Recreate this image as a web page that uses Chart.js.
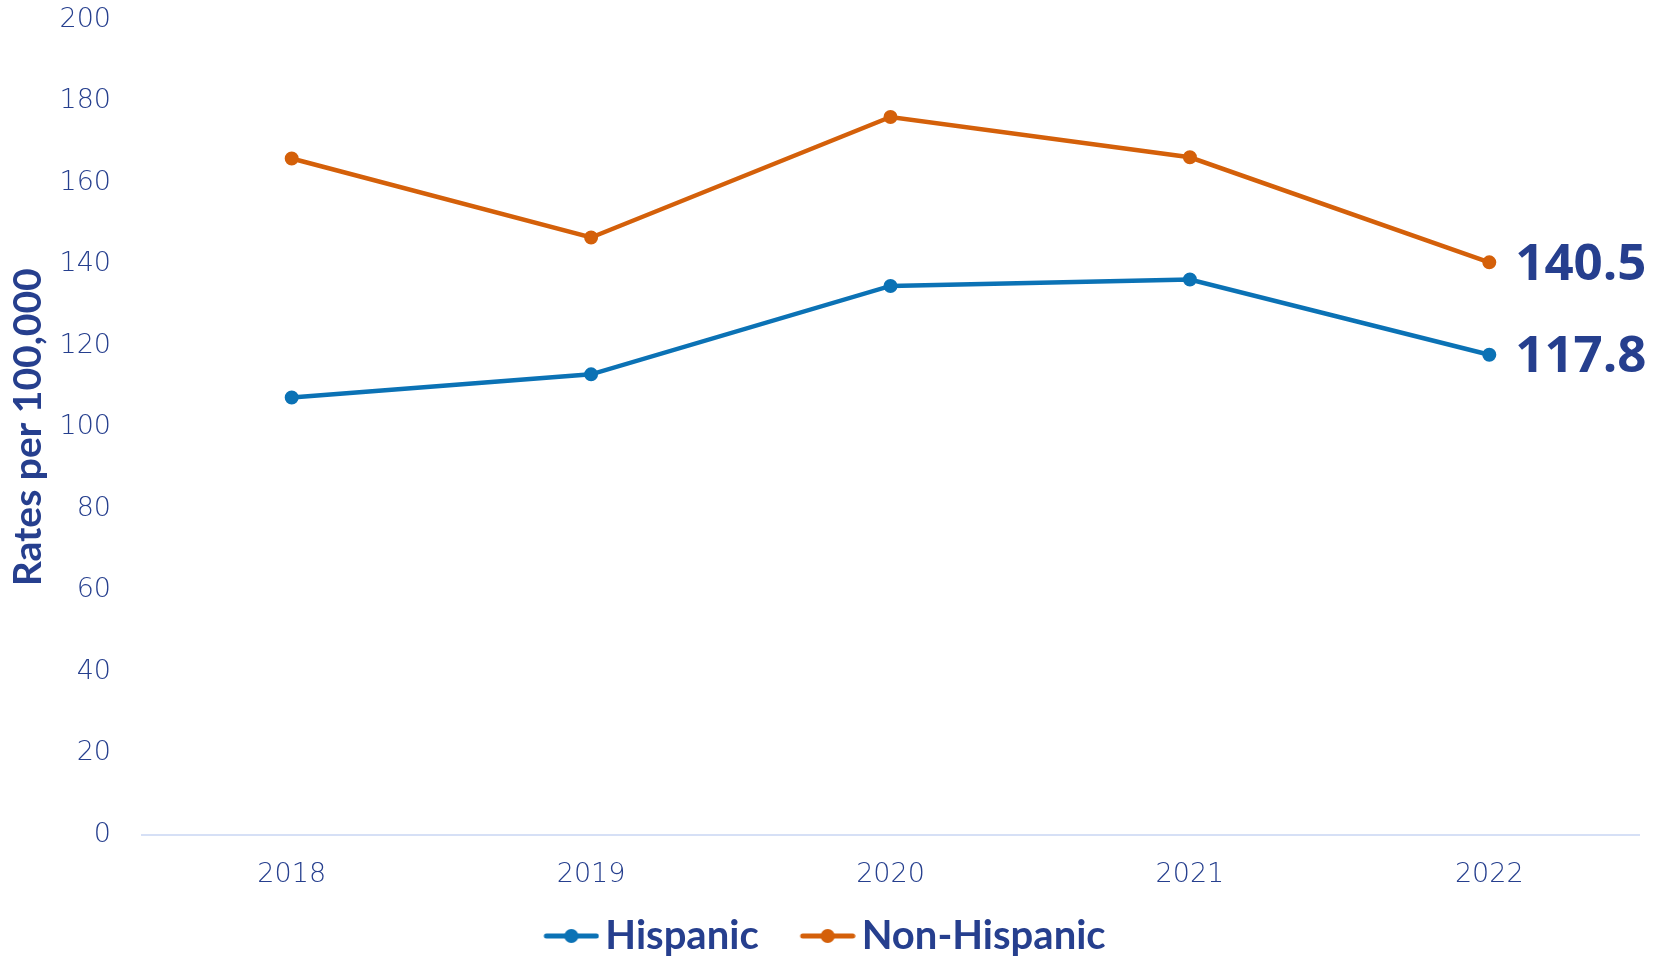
<!DOCTYPE html>
<html>
<head>
<meta charset="utf-8">
<script src="https://cdn.jsdelivr.net/npm/chart.js@4.4.1/dist/chart.umd.min.js"></script>
<style>
  html, body { margin: 0; padding: 0; background: #fff; }
  #wrap { width: 1657px; height: 958px; position: relative; }
</style>
</head>
<body>
<div id="wrap"><canvas id="rateChart"></canvas></div>
<script>
const years = ['2018', '2019', '2020', '2021', '2022'];
const hispanic = [107.3, 113.0, 134.7, 136.3, 117.8];
const nonHispanic = [166.0, 146.6, 176.2, 166.3, 140.5];
const seriesNames = ['Hispanic', 'Non-Hispanic'];
const yTicks = [0, 20, 40, 60, 80, 100, 120, 140, 160, 180, 200];

const navy = '#263F8E';
const blue = '#0B72B5';
const orange = '#D4600A';
const tickFont = { family: '"DejaVu Sans"', size: 27, weight: 200 };

// legend icon: line with a dot, drawn at the right of a wider transparent canvas
function legendIcon(color) {
    const c = document.createElement('canvas');
    c.width = 101;
    c.height = 16;
    const g = c.getContext('2d');
    g.strokeStyle = color;
    g.lineWidth = 5;
    g.lineCap = 'round';
    g.beginPath();
    g.moveTo(48, 8);
    g.lineTo(98, 8);
    g.stroke();
    g.fillStyle = color;
    g.beginPath();
    g.arc(73, 8, 7, 0, Math.PI * 2);
    g.fill();
    return c;
}

// last value labels next to the final point of each line
const endLabels = {
    id: 'endLabels',
    afterDatasetsDraw(chart) {
        const ctx = chart.ctx;
        ctx.save();
        ctx.font = 'bold 51px "Open Sans"';
        ctx.fillStyle = navy;
        ctx.textAlign = 'left';
        ctx.textBaseline = 'middle';
        chart.data.datasets.forEach((ds, i) => {
            const meta = chart.getDatasetMeta(i);
            const last = meta.data[meta.data.length - 1];
            const val = ds.data[ds.data.length - 1];
            ctx.fillText(val.toFixed(1), last.x + 26, last.y + 3);
        });
        ctx.restore();
    }
};

const ctx = document.getElementById('rateChart').getContext('2d');
const rateChart = new Chart(ctx, {
    type: 'line',
    data: {
        labels: years,
        datasets: [{
            label: seriesNames[0],
            data: hispanic,
            borderColor: blue,
            backgroundColor: blue,
            pointBackgroundColor: blue,
            pointBorderColor: blue,
            borderWidth: 4.5,
            pointRadius: 6,
            pointBorderWidth: 2,
            tension: 0,
            fill: false
        }, {
            label: seriesNames[1],
            data: nonHispanic,
            borderColor: orange,
            backgroundColor: orange,
            pointBackgroundColor: orange,
            pointBorderColor: orange,
            borderWidth: 4.5,
            pointRadius: 6,
            pointBorderWidth: 2,
            tension: 0,
            fill: false
        }]
    },
    options: {
        responsive: true,
        maintainAspectRatio: false,
        animation: false,
        layout: { padding: { left: -21, right: 18, top: 20, bottom: -8 } },
        scales: {
            x: {
                offset: true,
                grid: { display: false, drawTicks: false },
                border: { display: true, color: '#D6E0F6', width: 2 },
                ticks: {
                    color: navy,
                    font: tickFont,
                    padding: 24
                },
                afterFit: (scale) => { scale.height = scale.height - 9; }
            },
            y: {
                min: 0,
                max: 200,
                afterBuildTicks: (scale) => { scale.ticks = yTicks.map(v => ({ value: v })); },
                afterFit: (scale) => {
                    scale.width = 163;
                    scale.paddingTop = 0;
                    scale.paddingBottom = 0;
                },
                grid: { display: false, drawTicks: false },
                border: { display: false },
                ticks: {
                    color: navy,
                    font: tickFont,
                    padding: 31
                },
                title: {
                    display: true,
                    text: 'Rates per 100,000',
                    color: navy,
                    font: { family: 'Lato', size: 39, weight: 'bold' },
                    padding: { top: 26, bottom: 0 }
                }
            }
        },
        plugins: {
            legend: {
                position: 'bottom',
                labels: {
                    usePointStyle: true,
                    pointStyleWidth: 73,
                    padding: 10,
                    color: navy,
                    font: { family: 'Lato', size: 40, weight: 'bold' },
                    generateLabels: (chart) => chart.data.datasets.map((ds, i) => ({
                        text: ds.label,
                        fontColor: navy,
                        pointStyle: legendIcon(ds.borderColor),
                        datasetIndex: i,
                        hidden: false,
                        lineWidth: 0,
                        strokeStyle: 'transparent',
                        fillStyle: 'transparent'
                    }))
                }
            },
            tooltip: { enabled: false }
        }
    },
    plugins: [endLabels]
});
</script>
</body>
</html>
